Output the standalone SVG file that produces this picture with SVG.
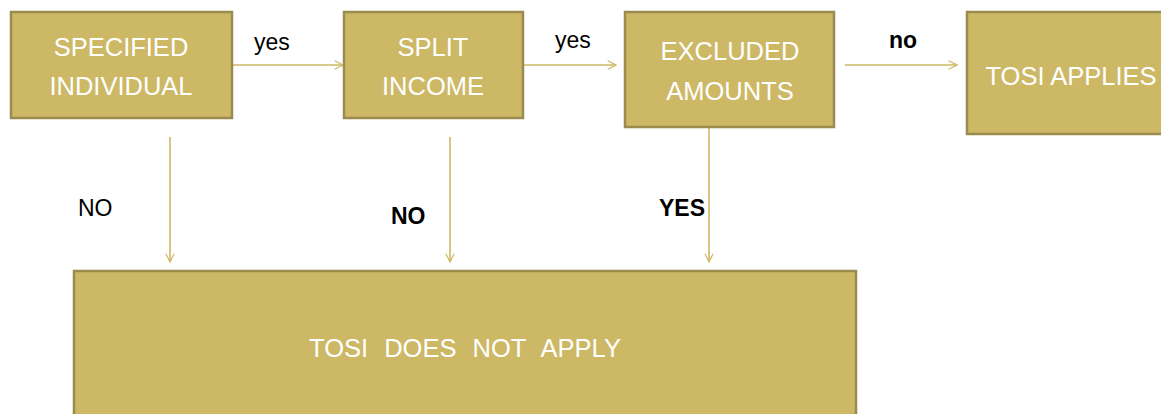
<svg xmlns="http://www.w3.org/2000/svg" width="1161" height="414" viewBox="0 0 1161 414">
  <defs>
    <style>
      .box { fill: #CDB866; stroke: #9C8B4F; stroke-width: 2.5; }
      .boxtxt { fill: #FFFFFF; font-family: "Liberation Sans", Arial, sans-serif; font-size: 25.5px; text-anchor: middle; }
      .conn { stroke: #CDB866; stroke-width: 1.6; fill: none; marker-end: url(#open); }
      .lbl { fill: #000000; font-family: "Liberation Sans", Arial, sans-serif; font-size: 23px; }
      .b { font-weight: bold; }
    </style>
    <marker id="open" viewBox="0 0 12 12" refX="11" refY="6" markerWidth="10" markerHeight="10" markerUnits="userSpaceOnUse" orient="auto">
      <path d="M1,1 L11,6 L1,11" fill="none" stroke="#CDB866" stroke-width="1.4"/>
    </marker>
  </defs>
  <rect width="1161" height="414" fill="#FFFFFF"/>

  <g id="connectors">
    <line class="conn" x1="232" y1="65" x2="343" y2="65"/>
    <line class="conn" x1="523" y1="65" x2="616" y2="65"/>
    <line class="conn" x1="845" y1="65" x2="957" y2="65"/>
    <line class="conn" x1="170" y1="137" x2="170" y2="262"/>
    <line class="conn" x1="450" y1="137" x2="450" y2="262"/>
    <line class="conn" x1="709" y1="127" x2="709" y2="262"/>
    <text class="lbl" x="254" y="50">yes</text>
    <text class="lbl" x="555" y="48">yes</text>
    <text class="lbl b" x="889" y="48">no</text>
    <text class="lbl" x="78" y="216">NO</text>
    <text class="lbl b" x="391" y="224">NO</text>
    <text class="lbl b" x="659" y="216">YES</text>
  </g>

  <g id="specified-individual">
    <rect class="box" x="11" y="12" width="221" height="106"/>
    <text class="boxtxt" x="121" y="56">SPECIFIED</text>
    <text class="boxtxt" x="121" y="95">INDIVIDUAL</text>
  </g>

  <g id="split-income">
    <rect class="box" x="344" y="12" width="179" height="106"/>
    <text class="boxtxt" x="433" y="56">SPLIT</text>
    <text class="boxtxt" x="433" y="95">INCOME</text>
  </g>

  <g id="excluded-amounts">
    <rect class="box" x="625" y="12" width="209" height="115"/>
    <text class="boxtxt" x="730" y="60">EXCLUDED</text>
    <text class="boxtxt" x="730" y="100">AMOUNTS</text>
  </g>

  <g id="tosi-applies">
    <rect class="box" x="967" y="12" width="200" height="122"/>
    <text class="boxtxt" x="1071" y="85">TOSI APPLIES</text>
  </g>

  <g id="tosi-does-not-apply">
    <rect class="box" x="74" y="271" width="782" height="150"/>
    <text class="boxtxt" x="465" y="357" word-spacing="9">TOSI DOES NOT APPLY</text>
  </g>
</svg>
